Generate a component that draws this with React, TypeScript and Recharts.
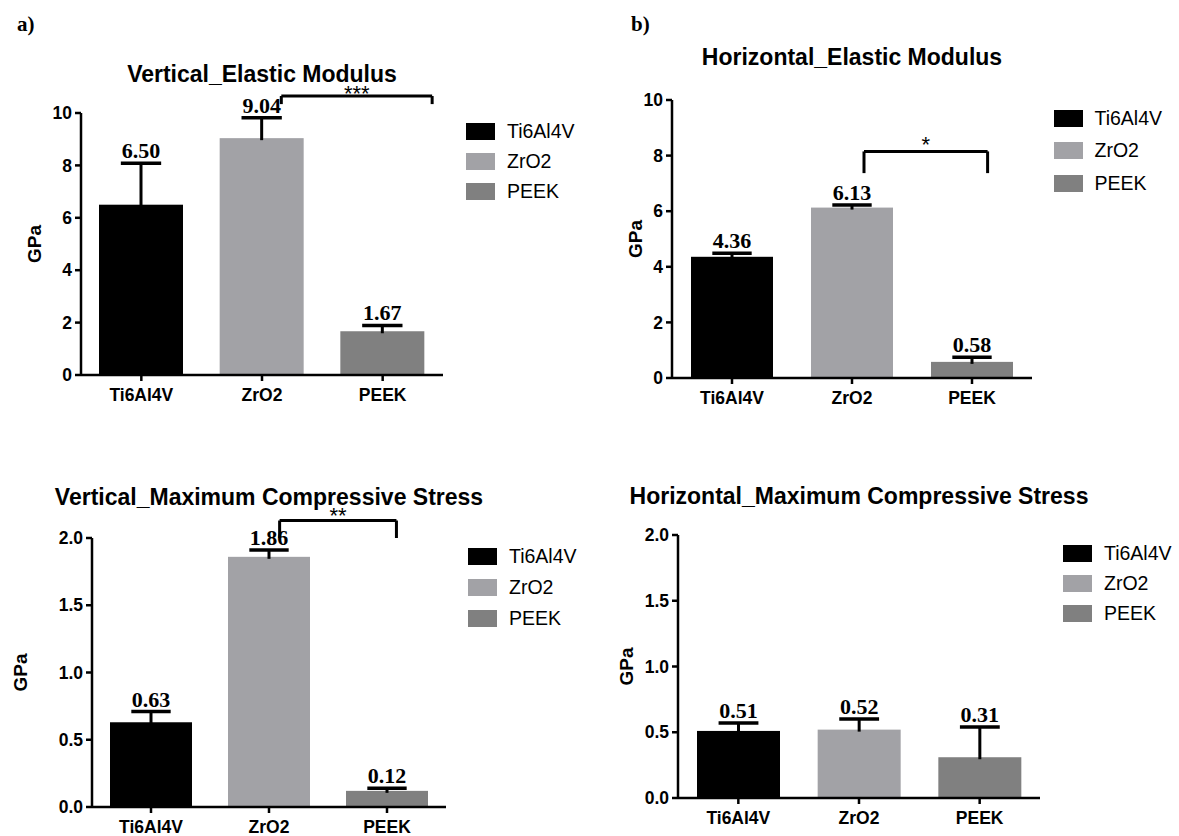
import { Bar, BarChart, Cell, Legend, ReferenceLine, XAxis, YAxis } from 'recharts'

const MATERIALS = ['Ti6Al4V', 'ZrO2', 'PEEK']
const COLORS = ['#000000', '#a2a2a6', '#808080']

const V_MODULUS = [6.5, 9.04, 1.67]
const V_MODULUS_ERR = [1.58, 0.78, 0.22]
const H_MODULUS = [4.36, 6.13, 0.58]
const H_MODULUS_ERR = [0.13, 0.09, 0.17]
const V_STRESS = [0.63, 1.86, 0.12]
const V_STRESS_ERR = [0.08, 0.05, 0.02]
const H_STRESS = [0.51, 0.52, 0.31]
const H_STRESS_ERR = [0.06, 0.08, 0.23]

const MODULUS_TICKS = [0, 2, 4, 6, 8, 10]
const STRESS_TICKS = [0, 0.5, 1, 1.5, 2]

// brackets: x in category units (0..3 across the axis), y in GPa
type Bracket = { from: number; to: number; y: number; legY: number; text: string }
const V_MODULUS_SIG: Bracket = { from: 1.66, to: 2.91, y: 10.65, legY: 10.34, text: '***' }
const H_MODULUS_SIG: Bracket = { from: 1.6, to: 2.63, y: 8.15, legY: 7.37, text: '*' }
const V_STRESS_SIG: Bracket = { from: 1.59, to: 2.58, y: 2.13, legY: 2.0, text: '**' }

const SANS = 'Arial, "Liberation Sans", Helvetica, sans-serif'
const SERIF = '"Times New Roman", "Liberation Serif", serif'
const LEGEND_W = 136

function BarWithError(props: any) {
  const { x, y, width, height, payload } = props
  const color = COLORS[MATERIALS.indexOf(payload.name)]
  const perUnit = payload.value > 0 ? height / payload.value : 0
  const top = y - payload.err * perUnit
  const cx = x + width / 2
  const cap = width * 0.48
  return (
    <g>
      <rect x={x} y={y} width={width} height={height} fill={color} />
      <line x1={cx} x2={cx} y1={y + 2} y2={top} stroke="#000" strokeWidth={3} />
      <line x1={cx - cap / 2} x2={cx + cap / 2} y1={top} y2={top} stroke="#000" strokeWidth={3.5} />
      <text x={cx} y={top - 5} textAnchor="middle" fontFamily={SERIF} fontWeight="bold" fontSize={22} fill="#000">
        {payload.value.toFixed(2)}
      </text>
    </g>
  )
}

function MaterialLegend({ pad, rowH }: { pad: number; rowH: number }) {
  return (
    <div style={{ width: LEGEND_W, boxSizing: 'border-box', paddingLeft: pad }}>
      {MATERIALS.map((m, i) => (
        <div key={m} style={{ height: rowH, display: 'flex', alignItems: 'center' }}>
          <span style={{ width: 29, height: 17, background: COLORS[i], display: 'inline-block', flex: 'none' }} />
          <span style={{ marginLeft: 12, fontFamily: SANS, fontSize: 19.5, color: '#000', whiteSpace: 'nowrap' }}>{m}</span>
        </div>
      ))}
    </div>
  )
}

type PanelProps = {
  left: number
  top: number
  width: number
  height: number
  margin: { top: number; right: number; bottom: number; left: number }
  yAxisWidth: number
  xAxisHeight: number
  gpaOffset: number
  legendTop: number
  legendPad: number
  legendRow: number
  title: string
  titleY: number
  values: number[]
  errors: number[]
  ticks: number[]
  decimals: number
  barSize: number
  bracket?: Bracket
  sigOffset?: number
}

function Panel(p: PanelProps) {
  const rows = MATERIALS.map((name, i) => ({ name, value: p.values[i], err: p.errors[i] }))
  const plotLeft = p.left + p.margin.left + p.yAxisWidth
  const plotRight = p.left + p.width - p.margin.right - LEGEND_W
  const b = p.bracket
  const axisStroke = { stroke: '#000', strokeWidth: 2.5 }
  const tickFont = { fontFamily: SANS, fontSize: 17.5, fontWeight: 'bold', fill: '#000' }
  return (
    <>
      <div
        style={{
          position: 'absolute',
          left: (plotLeft + plotRight) / 2,
          top: p.titleY - 14,
          transform: 'translateX(-50%)',
          whiteSpace: 'nowrap',
          fontFamily: SANS,
          fontWeight: 'bold',
          fontSize: 23,
          lineHeight: '28px',
        }}
      >
        {p.title}
      </div>
      <div style={{ position: 'absolute', left: p.left, top: p.top }}>
        <BarChart width={p.width} height={p.height} data={rows} margin={p.margin}>
          <XAxis
            dataKey="name"
            interval={0}
            height={p.xAxisHeight}
            tick={tickFont}
            tickSize={6}
            tickMargin={8}
            axisLine={axisStroke}
            tickLine={axisStroke}
          />
          <XAxis xAxisId="pos" dataKey="value" type="number" domain={[0, 3]} allowDataOverflow hide />
          <YAxis
            width={p.yAxisWidth}
            domain={[0, p.ticks[p.ticks.length - 1]]}
            ticks={p.ticks}
            interval={0}
            tickFormatter={(v: number) => v.toFixed(p.decimals)}
            tick={tickFont}
            tickSize={6}
            tickMargin={3}
            axisLine={axisStroke}
            tickLine={axisStroke}
            label={{
              value: 'GPa',
              angle: -90,
              position: 'insideLeft',
              offset: p.gpaOffset,
              style: { textAnchor: 'middle', fontFamily: SANS, fontSize: 19, fontWeight: 'bold', fill: '#000' },
            }}
          />
          <Legend
            layout="vertical"
            align="right"
            verticalAlign="top"
            wrapperStyle={{ top: p.legendTop }}
            content={() => <MaterialLegend pad={p.legendPad} rowH={p.legendRow} />}
          />
          <Bar dataKey="value" barSize={p.barSize} isAnimationActive={false} shape={BarWithError}>
            {rows.map((r, i) => (
              <Cell key={r.name} fill={COLORS[i]} />
            ))}
          </Bar>
          {b && (
            <ReferenceLine
              xAxisId="pos"
              ifOverflow="visible"
              stroke="#000"
              strokeWidth={3}
              segment={[
                { x: b.from, y: b.y },
                { x: b.to, y: b.y },
              ]}
              label={{ value: b.text, position: 'top', offset: p.sigOffset ?? 0, fill: '#000', fontSize: 22, fontFamily: SANS }}
            />
          )}
          {b && (
            <ReferenceLine
              xAxisId="pos"
              ifOverflow="visible"
              stroke="#000"
              strokeWidth={3}
              segment={[
                { x: b.from, y: b.y },
                { x: b.from, y: b.legY },
              ]}
            />
          )}
          {b && (
            <ReferenceLine
              xAxisId="pos"
              ifOverflow="visible"
              stroke="#000"
              strokeWidth={3}
              segment={[
                { x: b.to, y: b.y },
                { x: b.to, y: b.legY },
              ]}
            />
          )}
        </BarChart>
      </div>
    </>
  )
}

export default function App() {
  const tag = { position: 'absolute' as const, fontFamily: SERIF, fontWeight: 'bold' as const, fontSize: 21 }
  return (
    <div style={{ position: 'absolute', left: 0, top: 0, width: 1179, height: 836, background: '#fff', overflow: 'hidden' }}>
      <div style={{ ...tag, left: 17, top: 12 }}>a)</div>
      <div style={{ ...tag, left: 631, top: 12 }}>b)</div>
      <Panel
        left={0}
        top={0}
        width={590}
        height={420}
        margin={{ top: 113, right: 11, bottom: 5, left: 0 }}
        yAxisWidth={81}
        xAxisHeight={40}
        gpaOffset={34}
        legendTop={116.5}
        legendPad={23}
        legendRow={30}
        title="Vertical_Elastic Modulus"
        titleY={74}
        values={V_MODULUS}
        errors={V_MODULUS_ERR}
        ticks={MODULUS_TICKS}
        decimals={0}
        barSize={84}
        bracket={V_MODULUS_SIG}
        sigOffset={-5.5}
      />
      <Panel
        left={590}
        top={0}
        width={580}
        height={420}
        margin={{ top: 100, right: 2, bottom: 2, left: 0 }}
        yAxisWidth={82}
        xAxisHeight={40}
        gpaOffset={45}
        legendTop={101.75}
        legendPad={21.5}
        legendRow={32.5}
        title="Horizontal_Elastic Modulus"
        titleY={57}
        values={H_MODULUS}
        errors={H_MODULUS_ERR}
        ticks={MODULUS_TICKS}
        decimals={0}
        barSize={82}
        bracket={H_MODULUS_SIG}
        sigOffset={-0.5}
      />
      <Panel
        left={0}
        top={420}
        width={590}
        height={416}
        margin={{ top: 118, right: 8, bottom: 0, left: 0 }}
        yAxisWidth={92}
        xAxisHeight={29}
        gpaOffset={20}
        legendTop={120.5}
        legendPad={22}
        legendRow={31}
        title="Vertical_Maximum Compressive Stress"
        titleY={497}
        values={V_STRESS}
        errors={V_STRESS_ERR}
        ticks={STRESS_TICKS}
        decimals={1}
        barSize={82}
        bracket={V_STRESS_SIG}
        sigOffset={-2}
      />
      <Panel
        left={590}
        top={420}
        width={586}
        height={416}
        margin={{ top: 115, right: 0, bottom: 0, left: 0 }}
        yAxisWidth={88}
        xAxisHeight={38}
        gpaOffset={36}
        legendTop={118}
        legendPad={23}
        legendRow={30}
        title="Horizontal_Maximum Compressive Stress"
        titleY={496}
        values={H_STRESS}
        errors={H_STRESS_ERR}
        ticks={STRESS_TICKS}
        decimals={1}
        barSize={83}
      />
    </div>
  )
}
